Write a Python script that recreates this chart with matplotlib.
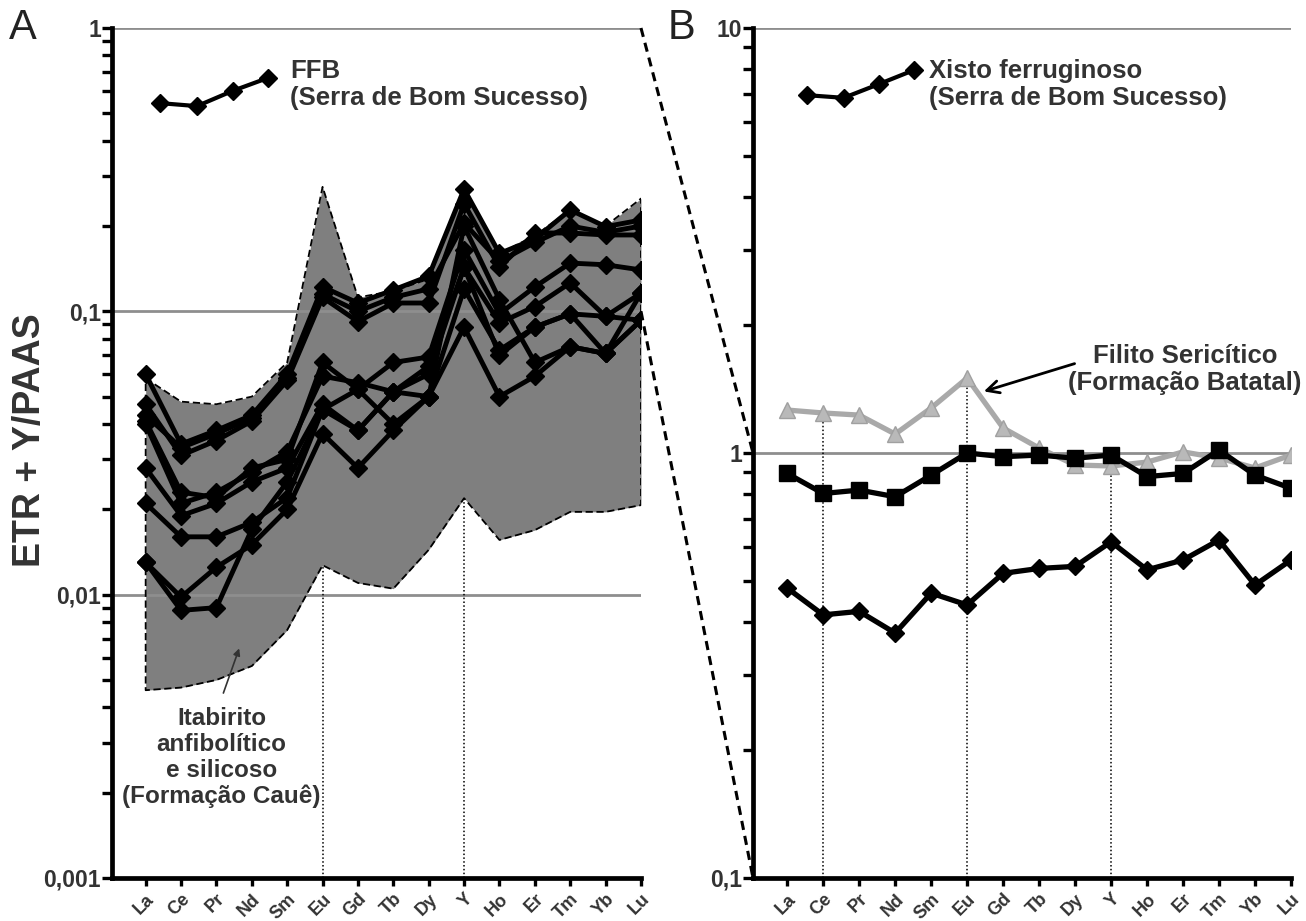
import matplotlib.pyplot as plt
from matplotlib.lines import Line2D
from matplotlib.ticker import LogLocator, FixedLocator, NullFormatter

plt.rcParams['font.family'] = ['Liberation Sans', 'DejaVu Sans']

elements = ["La", "Ce", "Pr", "Nd", "Sm", "Eu", "Gd", "Tb", "Dy", "Y",
            "Ho", "Er", "Tm", "Yb", "Lu"]
xs = list(range(len(elements)))

# A - FFB samples (Serra de Bom Sucesso), normalised to PAAS
ffb_1 = [0.060, 0.034, 0.038, 0.043, 0.060, 0.122, 0.107, 0.119, 0.133, 0.270, 0.160, 0.180, 0.228, 0.199, 0.210]
ffb_2 = [0.047, 0.031, 0.035, 0.041, 0.057, 0.112, 0.092, 0.107, 0.107, 0.240, 0.143, 0.189, 0.189, 0.186, 0.186]
ffb_3 = [0.043, 0.033, 0.037, 0.042, 0.058, 0.115, 0.100, 0.112, 0.120, 0.205, 0.150, 0.175, 0.200, 0.190, 0.200]
ffb_4 = [0.041, 0.023, 0.022, 0.028, 0.030, 0.066, 0.053, 0.066, 0.069, 0.165, 0.098, 0.122, 0.148, 0.146, 0.140]
ffb_5 = [0.040, 0.021, 0.023, 0.027, 0.032, 0.059, 0.056, 0.052, 0.064, 0.143, 0.091, 0.104, 0.126, 0.096, 0.116]
ffb_6 = [0.028, 0.019, 0.021, 0.025, 0.028, 0.047, 0.038, 0.052, 0.050, 0.120, 0.073, 0.088, 0.098, 0.096, 0.093]
ffb_7 = [0.021, 0.016, 0.016, 0.018, 0.022, 0.045, 0.053, 0.040, 0.050, 0.200, 0.110, 0.066, 0.075, 0.071, 0.093]
ffb_8 = [0.013, 0.0098, 0.0125, 0.015, 0.020, 0.037, 0.028, 0.038, 0.050, 0.088, 0.050, 0.059, 0.075, 0.071, 0.093]
ffb_9 = [0.013, 0.0088, 0.0090, 0.017, 0.025, 0.045, 0.038, 0.052, 0.060, 0.143, 0.070, 0.088, 0.098, 0.071, 0.116]
ffb_series = [ffb_1, ffb_2, ffb_3, ffb_4, ffb_5, ffb_6, ffb_7, ffb_8, ffb_9]

# itabirito field (Formação Cauê)
itab_upper = [0.058, 0.048, 0.047, 0.050, 0.066, 0.275, 0.112, 0.118, 0.130, 0.270, 0.160, 0.185, 0.228, 0.200, 0.250]
itab_lower = [0.0046, 0.0047, 0.0050, 0.0056, 0.0075, 0.0127, 0.0110, 0.0105, 0.0144, 0.0219, 0.0156, 0.0169, 0.0196, 0.0196, 0.0207]

# key glyph next to the FFB caption
ffb_key_x = [0.41, 1.45, 2.46, 3.45]
ffb_key_y = [0.543, 0.530, 0.600, 0.666]

# B
filito = [1.262, 1.242, 1.228, 1.108, 1.276, 1.501, 1.145, 1.027, 0.937, 0.932, 0.952, 1.006, 0.973, 0.922, 0.989]
squares_b = [0.895, 0.803, 0.818, 0.789, 0.887, 1.000, 0.980, 0.989, 0.972, 0.989, 0.880, 0.895, 1.016, 0.887, 0.826]
xisto = [0.481, 0.416, 0.424, 0.377, 0.468, 0.439, 0.521, 0.535, 0.541, 0.618, 0.531, 0.560, 0.624, 0.489, 0.560]
xisto_key_x = [0.54, 1.57, 2.55, 3.52]
xisto_key_y = [6.95, 6.85, 7.38, 7.96]

txt_col = "#333333"
grid_col = "#8e8e8e"
note_size = 18.5

fig = plt.figure(figsize=(13.06, 9.21), dpi=100)
axA = fig.add_axes([0.0858, 0.0467, 0.4050, 0.9229])
axB = fig.add_axes([0.5766, 0.0467, 0.4119, 0.9229])


def style_axis(ax, ymin, ymax, labels):
    ax.set_yscale("log")
    ax.set_ylim(ymin, ymax)
    ax.set_xlim(-0.95, 14)
    ax.patch.set_alpha(0)
    for s in ["top", "right"]:
        ax.spines[s].set_visible(False)
    for s in ["left", "bottom"]:
        ax.spines[s].set_linewidth(3.4)
    ax.yaxis.set_major_locator(FixedLocator(list(labels.keys())))
    ax.set_yticklabels(list(labels.values()))
    ax.yaxis.set_minor_locator(LogLocator(base=10, subs=range(2, 10)))
    ax.yaxis.set_minor_formatter(NullFormatter())
    ax.tick_params(axis="y", which="both", direction="out", width=2.4, length=7)
    ax.tick_params(axis="y", which="major", labelsize=16.5, pad=1, labelcolor=txt_col)
    ax.set_xticks(xs)
    ax.set_xticklabels(elements, rotation=45, ha="right", rotation_mode="anchor")
    ax.tick_params(axis="x", direction="out", width=2.4, length=6, labelsize=13,
                   labelcolor=txt_col, pad=3)
    for lab in ax.get_xticklabels() + ax.get_yticklabels():
        lab.set_fontweight("bold")


# ---- panel A
style_axis(axA, 0.001, 1, {0.001: "0,001", 0.01: "0,01", 0.1: "0,1", 1: "1"})

axA.fill_between(xs, itab_lower, itab_upper, color="#7f7f7f", lw=0, zorder=1)
outline_x = xs + xs[::-1] + [xs[0]]
outline_y = itab_upper + itab_lower[::-1] + [itab_upper[0]]
axA.plot(outline_x, outline_y, color="black", lw=1.3, dashes=(4, 2), zorder=2)

for v in [1, 0.1, 0.01]:
    axA.axhline(v, color=grid_col, lw=2, zorder=1.5)

for i in [5, 9]:
    axA.vlines(xs[i], 0.001, itab_lower[i], colors="black", lw=1.1,
               linestyles=(0, (1, 1.5)), zorder=1.5)

for s in ffb_series:
    axA.plot(xs, s, color="black", lw=3.5, marker="D", ms=9, zorder=3)

axA.plot(ffb_key_x, ffb_key_y, color="black", lw=3, marker="D", ms=9, clip_on=False)
axA.text(4.08, 0.63, "FFB\n(Serra de Bom Sucesso)", fontsize=note_size, fontweight="bold",
         color=txt_col, ha="left", va="center", linespacing=1.15)

axA.text(2.15, 0.00266, "Itabirito\nanfibolítico\ne silicoso\n(Formação Cauê)",
         fontsize=17.5, fontweight="bold", color=txt_col, ha="center", va="center",
         linespacing=1.15)
axA.annotate("", xy=(2.67, 0.0066), xytext=(2.17, 0.0044),
             arrowprops=dict(arrowstyle="-|>", color="#333333", lw=1.2, mutation_scale=10))

# ---- panel B
style_axis(axB, 0.1, 10, {0.1: "0,1", 1: "1", 10: "10"})

for v in [10, 1]:
    axB.axhline(v, color=grid_col, lw=2, zorder=1.5)

for i in [1, 5, 9]:
    axB.vlines(xs[i], 0.1, filito[i], colors="black", lw=1.1,
               linestyles=(0, (1, 1.5)), zorder=1.5)

axB.plot(xs, filito, color="#a9a9a9", lw=3.8, marker="^", ms=11,
         mfc="#b9b9b9", mec="#a0a0a0", zorder=3)
axB.plot(xs, squares_b, color="black", lw=3.8, marker="s", ms=11, zorder=4)
axB.plot(xs, xisto, color="black", lw=3.8, marker="D", ms=9, zorder=4)

axB.plot(xisto_key_x, xisto_key_y, color="black", lw=3, marker="D", ms=9, clip_on=False)
axB.text(3.94, 7.35, "Xisto ferruginoso\n(Serra de Bom Sucesso)", fontsize=note_size,
         fontweight="bold", color=txt_col, ha="left", va="center", linespacing=1.15)

axB.text(11.05, 1.57, "Filito Sericítico\n(Formação Batatal)", fontsize=note_size,
         fontweight="bold", color=txt_col, ha="center", va="center", linespacing=1.15)
axB.annotate("", xy=(5.39, 1.39), xytext=(8.06, 1.63),
             arrowprops=dict(arrowstyle="->", color="black", lw=2, mutation_scale=22))

# dashed connectors: decade 0,1-1 of A opened up onto panel B
pa = axA.get_position()
pb = axB.get_position()
a_top, a_tenth = pa.y1, pa.y0 + pa.height * 2 / 3
b_one, b_bottom = pb.y0 + pb.height / 2, pb.y0
for ya, yb in [(a_top, b_one), (a_tenth, b_bottom)]:
    fig.add_artist(Line2D([pa.x1, pb.x0], [ya, yb], transform=fig.transFigure,
                          color="black", lw=2.2, linestyle=(0, (3, 2))))

fig.text(30 / 1306, 1 - 440 / 921, "ETR + Y/PAAS", rotation=90, fontsize=27,
         fontweight="bold", color=txt_col, ha="center", va="center")
fig.text(0.007, 0.97, "A", fontsize=30, color="#222222", va="center")
fig.text(0.511, 0.97, "B", fontsize=30, color="#222222", va="center")

fig.savefig("out.png", dpi=100)
